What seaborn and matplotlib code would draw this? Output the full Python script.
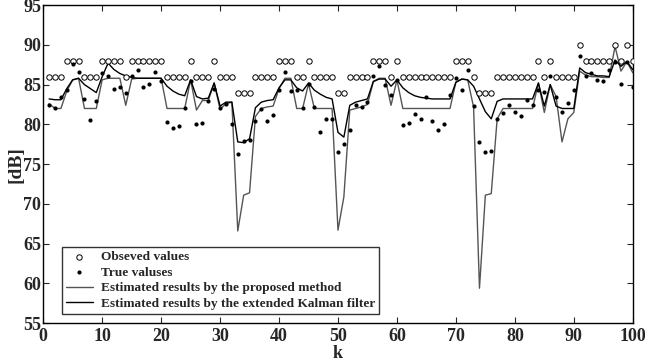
import numpy as np
import pandas as pd
import matplotlib
matplotlib.use("Agg")
import matplotlib.pyplot as plt
import seaborn as sns

k = list(range(1, 101))

observed = [86, 86, 86, 88, 88, 88, 86, 86, 86, 88,
            88, 88, 88, 86, 88, 88, 88, 88, 88, 88,
            86, 86, 86, 86, 88, 86, 86, 86, 88, 86,
            86, 86, 84, 84, 84, 86, 86, 86, 86, 88,
            88, 88, 86, 86, 88, 86, 86, 86, 86, 84,
            84, 86, 86, 86, 86, 88, 88, 88, 86, 88,
            86, 86, 86, 86, 86, 86, 86, 86, 86, 88,
            88, 88, 86, 84, 84, 84, 86, 86, 86, 86,
            86, 86, 86, 88, 86, 88, 86, 86, 86, 86,
            90, 88, 88, 88, 88, 88, 90, 88, 90, 88]

true_vals = [82.5, 82.1, 83.4, 84.3, 87.6, 86.6, 83.2, 80.5, 82.9, 86.5,
             86.1, 84.4, 84.7, 83.9, 86.1, 86.8, 84.7, 85.1, 86.6, 85.4,
             80.3, 79.5, 79.8, 82.0, 85.5, 80.0, 80.2, 83.0, 84.4, 82.1,
             82.6, 80.0, 76.3, 77.9, 78.0, 80.4, 81.9, 80.4, 81.2, 84.3,
             86.6, 84.2, 84.3, 82.1, 85.1, 82.2, 79.0, 80.7, 80.7, 76.5,
             77.5, 79.3, 82.5, 82.2, 82.8, 86.1, 87.3, 84.9, 83.7, 85.6,
             79.9, 80.2, 81.3, 80.7, 83.5, 80.4, 79.3, 80.0, 83.7, 85.8,
             84.3, 86.8, 82.3, 77.8, 76.5, 76.6, 80.7, 81.4, 82.4, 81.6,
             81.1, 83.1, 82.4, 84.3, 84.1, 86.1, 83.5, 81.5, 82.7, 84.3,
             88.6, 86.1, 86.4, 85.6, 85.4, 86.8, 87.8, 85.1, 87.8, 84.7]

proposed = [82.6, 82.0, 82.0, 84.2, 85.6, 85.8, 82.0, 82.0, 82.0, 85.6,
            85.8, 85.8, 85.8, 82.4, 85.7, 85.8, 85.8, 85.8, 85.8, 85.8,
            82.0, 82.0, 82.0, 82.0, 85.6, 81.8, 83.0, 83.0, 85.2, 81.9,
            82.6, 82.8, 66.6, 71.1, 71.4, 81.0, 82.0, 82.2, 82.3, 84.5,
            85.8, 85.8, 82.0, 82.0, 85.1, 82.0, 82.0, 82.0, 82.0, 66.7,
            70.9, 81.8, 82.0, 82.2, 82.5, 85.4, 85.8, 85.8, 82.4, 85.6,
            82.0, 82.0, 82.0, 82.0, 82.0, 82.0, 82.0, 82.0, 82.0, 85.3,
            85.7, 85.6, 82.2, 59.4, 71.1, 71.3, 80.7, 82.0, 82.0, 82.0,
            82.0, 82.0, 82.0, 85.2, 81.5, 85.0, 83.5, 77.8, 80.7, 81.5,
            86.7, 86.2, 86.0, 86.0, 85.9, 85.9, 89.8, 86.7, 87.9, 86.5]

ekf = [83.2, 83.1, 83.1, 84.5, 85.6, 85.8, 85.0, 84.5, 84.0, 86.0,
       87.7, 86.9, 86.4, 86.1, 85.9, 85.8, 85.8, 85.8, 85.8, 85.8,
       84.8, 84.2, 83.8, 83.6, 85.6, 83.5, 83.2, 83.3, 85.2, 82.3,
       82.8, 82.8, 77.8, 77.7, 78.2, 82.1, 82.8, 83.0, 83.1, 84.6,
       85.6, 85.6, 84.6, 84.2, 85.2, 84.3, 83.8, 83.4, 83.2, 79.0,
       78.4, 82.4, 82.8, 83.0, 83.2, 85.4, 85.7, 85.7, 84.8, 85.6,
       84.6, 84.0, 83.6, 83.4, 83.3, 83.2, 83.2, 83.2, 83.2, 85.3,
       85.7, 85.6, 84.8, 83.2, 81.6, 80.7, 82.9, 83.2, 83.2, 83.2,
       83.2, 83.2, 83.2, 85.2, 82.3, 85.0, 82.3, 82.0, 82.0, 82.0,
       87.1, 86.5, 86.3, 86.1, 86.1, 86.0, 88.1, 87.3, 87.9, 86.9]

df = pd.DataFrame({"k": k, "observed": observed, "true": true_vals,
                   "proposed": proposed, "ekf": ekf})

sns.set_style("ticks")
plt.rcParams['font.family'] = ['Liberation Serif', 'DejaVu Serif']
plt.rcParams['font.weight'] = 'bold'

fig = plt.figure(figsize=(6.45, 3.64), dpi=100)
ax = fig.add_axes([0.067, 0.112, 0.914, 0.874])

# estimated tracks
sns.lineplot(data=df, x="k", y="proposed", ax=ax, color="#555555", linewidth=1.0,
             label="Estimated results by the proposed method")
sns.lineplot(data=df, x="k", y="ekf", ax=ax, color="black", linewidth=1.0,
             label="Estimated results by the extended Kalman filter")

# measurements and ground truth
sns.scatterplot(data=df, x="k", y="observed", ax=ax, marker="o", s=15,
                facecolor="white", edgecolor="black", linewidth=0.7,
                label="Obseved values", zorder=3)
sns.scatterplot(data=df, x="k", y="true", ax=ax, marker="o", s=9,
                color="black", edgecolor="black", linewidth=0,
                label="True valuses", zorder=4)

ax.set_xlim(0, 100)
ax.set_ylim(55, 95)
ax.set_xticks(range(0, 101, 10))
ax.set_yticks(range(55, 96, 5))
ax.tick_params(direction="in", top=True, right=True, length=4, width=0.8,
               labelsize=13)
ax.tick_params(axis="x", pad=3.5)
ax.tick_params(axis="y", pad=1.5)
for lbl in ax.get_xticklabels() + ax.get_yticklabels():
    lbl.set_fontweight("bold")
for sp in ax.spines.values():
    sp.set_linewidth(1.0)
    sp.set_color("black")

ax.set_xlabel("k", fontsize=13, fontweight="bold", labelpad=0)
ax.set_ylabel("[dB]", fontsize=14, fontweight="bold", labelpad=-1)

handles, labels = ax.get_legend_handles_labels()
order = [2, 3, 0, 1]
leg = ax.legend([handles[i] for i in order], [labels[i] for i in order],
                loc="lower left", bbox_to_anchor=(0.032, 0.029), borderaxespad=0,
                prop={"size": 9.6, "weight": "bold"}, frameon=True, fancybox=False,
                edgecolor="black", handlelength=2.0, handletextpad=0.6,
                labelspacing=0.24, borderpad=0.3)
leg.get_frame().set_linewidth(1.0)

fig.savefig("out.png", dpi=100)
